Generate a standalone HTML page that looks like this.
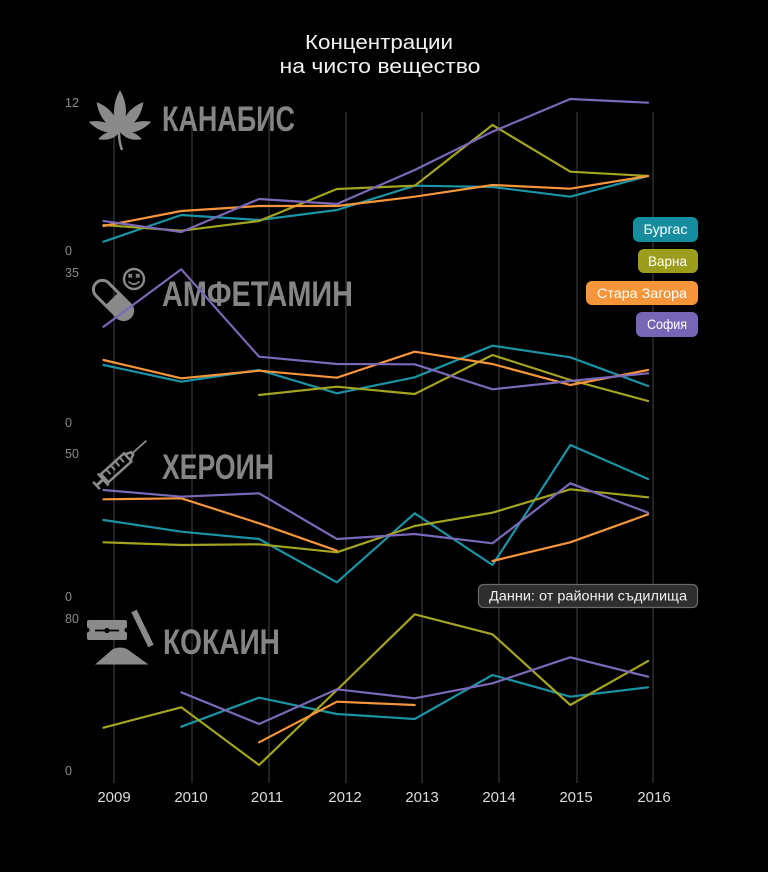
<!DOCTYPE html>
<html>
<head>
<meta charset="utf-8">
<style>
  html,body{margin:0;padding:0;background:#000;}
  svg{display:block;}
  text{font-family:"Liberation Sans","DejaVu Sans",sans-serif;}
  .lbl{font-family:"Liberation Sans Narrow","Liberation Sans",sans-serif;font-weight:bold;fill:#858585;font-size:35px;}
  .yt{fill:#8a8a8a;font-size:12.5px;}
  .xt{fill:#dcdcdc;font-size:15px;text-anchor:middle;}
  .lg{fill:#fff;font-size:14px;text-anchor:middle;}
  .s{fill:none;stroke-width:2.2;stroke-linejoin:round;stroke-linecap:round;}
  .t{stroke:#1a93a5;} .o{stroke:#a3a41f;} .r{stroke:#f7953b;} .p{stroke:#7b68b8;}
</style>
</head>
<body>
<svg width="768" height="872" viewBox="0 0 768 872" xmlns="http://www.w3.org/2000/svg">
  <rect width="768" height="872" fill="#000"/>

  <!-- title -->
  <text x="379" y="49" fill="#f2f2f2" font-size="20" text-anchor="middle" textLength="148" lengthAdjust="spacingAndGlyphs">Концентрации</text>
  <text x="380" y="73" fill="#f2f2f2" font-size="20" text-anchor="middle" textLength="201" lengthAdjust="spacingAndGlyphs">на чисто вещество</text>

  <!-- gridlines -->
  <g stroke="#383838" stroke-width="1.2">
    <line x1="114" y1="112" x2="114" y2="783"/>
    <line x1="192" y1="112" x2="192" y2="783"/>
    <line x1="269" y1="112" x2="269" y2="783"/>
    <line x1="346" y1="112" x2="346" y2="783"/>
    <line x1="422" y1="112" x2="422" y2="783"/>
    <line x1="499" y1="112" x2="499" y2="783"/>
    <line x1="577" y1="112" x2="577" y2="783"/>
    <line x1="653" y1="112" x2="653" y2="783"/>
  </g>

  <!-- y labels -->
  <text class="yt" x="65" y="107">12</text>
  <text class="yt" x="65" y="255">0</text>
  <text class="yt" x="65" y="277">35</text>
  <text class="yt" x="65" y="427">0</text>
  <text class="yt" x="65" y="458">50</text>
  <text class="yt" x="65" y="601">0</text>
  <text class="yt" x="65" y="623">80</text>
  <text class="yt" x="65" y="775">0</text>

  <!-- x labels -->
  <text class="xt" x="114" y="802">2009</text>
  <text class="xt" x="191" y="802">2010</text>
  <text class="xt" x="267" y="802">2011</text>
  <text class="xt" x="345" y="802">2012</text>
  <text class="xt" x="422" y="802">2013</text>
  <text class="xt" x="499" y="802">2014</text>
  <text class="xt" x="576" y="802">2015</text>
  <text class="xt" x="654" y="802">2016</text>

  <!-- ICONS -->
  <!-- cannabis leaf -->
  <g fill="#8a8a8a" transform="translate(120,132)">
    <path d="M0,0 Q12,-21 0,-42 Q-12,-21 0,0Z"/>
    <path d="M0,0 Q11,-19 0,-38 Q-11,-19 0,0Z" transform="rotate(38)"/>
    <path d="M0,0 Q11,-19 0,-38 Q-11,-19 0,0Z" transform="rotate(-38)"/>
    <path d="M0,0 Q9,-16 0,-33 Q-9,-16 0,0Z" transform="rotate(72)"/>
    <path d="M0,0 Q9,-16 0,-33 Q-9,-16 0,0Z" transform="rotate(-72)"/>
    <path d="M0,0 Q7,-11 0,-23 Q-7,-11 0,0Z" transform="rotate(108)"/>
    <path d="M0,0 Q7,-11 0,-23 Q-7,-11 0,0Z" transform="rotate(-108)"/>
    <path d="M-1,0 Q-1,10 2,18" fill="none" stroke="#8a8a8a" stroke-width="2.5"/>
  </g>
  <text class="lbl" x="162" y="131" textLength="133" lengthAdjust="spacingAndGlyphs">КАНАБИС</text>

  <!-- pill + smiley -->
  <g transform="translate(113,300) rotate(45)">
    <path d="M0,-9 L-15,-9 A9,9 0 0 0 -15,9 L0,9 Z" fill="none" stroke="#8a8a8a" stroke-width="3"/>
    <path d="M0,-9 L15,-9 A9,9 0 0 1 15,9 L0,9 Z" fill="#8a8a8a" stroke="#8a8a8a" stroke-width="3"/>
  </g>
  <g transform="translate(134,279)">
    <circle r="10" fill="none" stroke="#8a8a8a" stroke-width="2.4"/>
    <g stroke="#8a8a8a" stroke-width="1.6">
      <line x1="-5.5" y1="-5" x2="-2" y2="-1.5"/><line x1="-2" y1="-5" x2="-5.5" y2="-1.5"/>
      <line x1="2" y1="-5" x2="5.5" y2="-1.5"/><line x1="5.5" y1="-5" x2="2" y2="-1.5"/>
      <path d="M-5.5,2.5 Q0,7.5 5.5,2.5" fill="none"/>
    </g>
  </g>
  <text class="lbl" x="162" y="306" textLength="191" lengthAdjust="spacingAndGlyphs">АМФЕТАМИН</text>

  <!-- syringe -->
  <g transform="translate(96.5,485.5) rotate(-42)" stroke="#8a8a8a" fill="none" stroke-linecap="butt">
    <line x1="0" y1="-5" x2="0" y2="5" stroke-width="2.5"/>
    <line x1="0" y1="0" x2="9" y2="0" stroke-width="3"/>
    <line x1="9" y1="-8" x2="9" y2="8" stroke-width="2.5"/>
    <rect x="11" y="-5.5" width="31" height="11" stroke-width="2.5"/>
    <line x1="18" y1="-5" x2="18" y2="1" stroke-width="2"/>
    <line x1="24" y1="-5" x2="24" y2="1" stroke-width="2"/>
    <line x1="30" y1="-5" x2="30" y2="1" stroke-width="2"/>
    <line x1="36" y1="-5" x2="36" y2="1" stroke-width="2"/>
    <path d="M42,-4 L48,-1.5 L48,1.5 L42,4" stroke-width="2.5"/>
    <line x1="48" y1="0" x2="67" y2="0" stroke-width="1.8"/>
  </g>
  <text class="lbl" x="162" y="479" textLength="112" lengthAdjust="spacingAndGlyphs">ХЕРОИН</text>

  <!-- razor / cocaine -->
  <g>
    <rect x="87" y="620" width="40" height="20" rx="2" fill="#8a8a8a"/>
    <circle cx="87" cy="630" r="2.5" fill="#000"/>
    <circle cx="127" cy="630" r="2.5" fill="#000"/>
    <line x1="95" y1="630.5" x2="119" y2="630.5" stroke="#000" stroke-width="1.8"/>
    <circle cx="107" cy="630.5" r="2.6" fill="#000"/>
    <line x1="134" y1="611" x2="151" y2="646" stroke="#8a8a8a" stroke-width="6"/>
    <path d="M95,664.5 L113,649 Q120,646 127,649 L148.5,664.5 Z" fill="#8a8a8a"/>
  </g>
  <text class="lbl" x="163" y="654" textLength="117" lengthAdjust="spacingAndGlyphs">КОКАИН</text>

  <!-- SERIES -->
  <!-- Cannabis -->
  <polyline class="s t" points="103.5,241.7 181.3,215 259.1,220 336.9,210 414.7,185.7 492.5,187 570.3,196.7 648.1,176"/>
  <polyline class="s o" points="103.5,225 181.3,230.7 259.1,221 336.9,189 414.7,185.7 492.5,125 570.3,171.7 648.1,176"/>
  <polyline class="s r" points="103.5,226 181.3,211 259.1,206 336.9,206 414.7,196.7 492.5,185 570.3,188.7 648.1,176"/>
  <polyline class="s p" points="103.5,221 181.3,232 259.1,199 336.9,204 414.7,170 492.5,131.7 570.3,99 648.1,102.7"/>

  <!-- Amphetamine -->
  <polyline class="s t" points="103.5,365 181.3,381.7 259.1,370 336.9,393.3 414.7,377.3 492.5,345.7 570.3,357.3 648.1,386"/>
  <polyline class="s o" points="259.1,395 336.9,386.7 414.7,394 492.5,355 570.3,380 648.1,401"/>
  <polyline class="s r" points="103.5,360 181.3,378.3 259.1,370.7 336.9,377.7 414.7,351.7 492.5,364 570.3,385 648.1,370"/>
  <polyline class="s p" points="103.5,326.7 181.3,269.3 259.1,356.7 336.9,364 414.7,364.3 492.5,389.3 570.3,381 648.1,373.3"/>

  <!-- Heroin -->
  <polyline class="s t" points="103.5,520 181.3,531.7 259.1,539 336.9,582.3 414.7,513.3 492.5,565 570.3,445 648.1,479"/>
  <polyline class="s o" points="103.5,542.3 181.3,545 259.1,544.3 336.9,552.3 414.7,526 492.5,512.7 570.3,489.3 648.1,497.3"/>
  <polyline class="s r" points="103.5,499.3 181.3,498.3 259.1,523.3 336.9,550.7"/>
  <polyline class="s r" points="492.5,561 570.3,542.3 648.1,514.3"/>
  <polyline class="s p" points="103.5,490 181.3,496.7 259.1,493.3 336.9,539 414.7,534 492.5,543.3 570.3,483.3 648.1,512.7"/>

  <!-- Cocaine -->
  <polyline class="s t" points="181.3,726.7 259.1,697.7 336.9,714 414.7,719 492.5,675 570.3,696.7 648.1,687.3"/>
  <polyline class="s o" points="103.5,727.7 181.3,707.3 259.1,765 336.9,690 414.7,614.3 492.5,634.3 570.3,705 648.1,661"/>
  <polyline class="s r" points="259.1,742.3 336.9,701.7 414.7,705"/>
  <polyline class="s p" points="181.3,692.3 259.1,724 336.9,689.3 414.7,698.3 492.5,683.3 570.3,657.3 648.1,676.7"/>

  <!-- legend -->
  <rect x="633" y="217" width="65" height="25" rx="6" fill="#168d9e"/>
  <text class="lg" x="665.5" y="234" textLength="44" lengthAdjust="spacingAndGlyphs">Бургас</text>
  <rect x="638" y="249" width="60" height="24" rx="6" fill="#9c9d1b"/>
  <text class="lg" x="667.5" y="266" textLength="39" lengthAdjust="spacingAndGlyphs">Варна</text>
  <rect x="586" y="281" width="112" height="24" rx="6" fill="#f7953b"/>
  <text class="lg" x="642" y="298" textLength="90" lengthAdjust="spacingAndGlyphs">Стара Загора</text>
  <rect x="636" y="312" width="62" height="25" rx="6" fill="#7766b6"/>
  <text class="lg" x="667" y="329" textLength="40" lengthAdjust="spacingAndGlyphs">София</text>

  <!-- source box -->
  <rect x="478.5" y="584.5" width="219" height="23" rx="5" fill="#2e2e2e" stroke="#6a6a6a" stroke-width="1.2"/>
  <text x="588" y="600.5" fill="#f0f0f0" font-size="14" text-anchor="middle" textLength="198" lengthAdjust="spacingAndGlyphs">Данни: от районни съдилища</text>
</svg>
</body>
</html>
